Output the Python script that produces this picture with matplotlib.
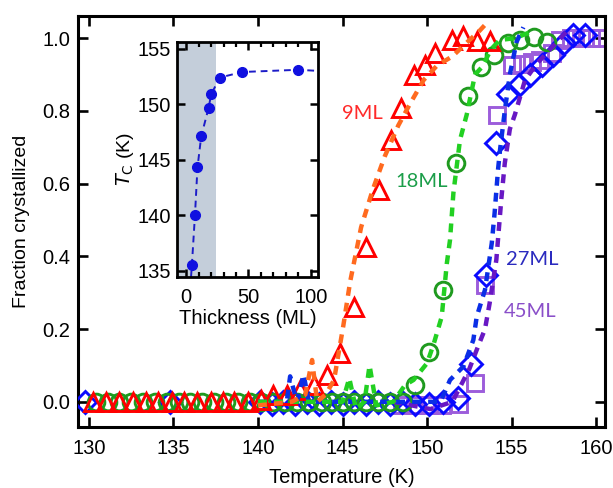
import matplotlib
matplotlib.use("Agg")
import matplotlib.pyplot as plt
from matplotlib.ticker import MultipleLocator

plt.rcParams['font.family'] = ['Liberation Sans', 'DejaVu Sans']

# ---------------- main data ----------------
# 9 ML (red triangles)
t9 = [130.25, 131.0, 131.8, 132.6, 133.35, 134.1, 134.9, 135.6, 136.4, 137.2, 137.9,
      138.6, 139.4, 140.2, 140.9, 141.7, 142.5, 143.3, 144.1, 144.85, 145.7, 146.4,
      147.15, 147.85, 148.45, 149.2, 149.9, 150.5, 151.45, 152.15, 152.95, 153.75]
f9 = [0, 0, 0, 0, 0, 0, 0, 0, 0, 0, 0,
      0, 0, 0.005, 0.02, 0.02, 0.033, 0.046, 0.075, 0.133, 0.262, 0.427,
      0.583, 0.72, 0.807, 0.899, 0.927, 0.959, 0.995, 1.006, 0.991, 0.991]

# 18 ML (green circles)
t18 = [130.4, 131.1, 131.8, 132.5, 133.2, 133.9, 134.6, 135.3, 136.0, 136.7, 137.4,
       138.1, 138.8, 139.5, 140.2, 140.9, 141.6, 142.3, 143.0, 143.8, 144.4, 145.0,
       145.7, 146.4, 147.1, 147.8, 148.6, 149.3, 150.1, 150.95, 151.7, 152.45,
       153.2, 153.95, 154.8, 155.5, 156.3, 157.1]
f18 = [0, 0, 0, 0, 0, 0, 0, 0, 0, 0, 0,
       0, 0, 0, 0, 0, 0, 0, 0, 0, 0, 0,
       0, 0, 0, 0, 0, 0.046, 0.138, 0.307, 0.656, 0.841,
       0.922, 0.953, 0.986, 0.995, 1.004, 0.99]

# 27 ML (blue diamonds)
t27 = [129.75, 134.8, 140.1, 140.8, 141.5, 142.2, 142.9, 143.6, 144.3, 145.0, 145.7,
       146.4, 147.1, 147.8, 148.5, 149.3, 150.1, 150.95, 151.85, 152.6, 153.5, 154.1,
       154.8, 155.45, 156.1, 156.8, 157.45, 158.1, 158.65, 159.35]
f27 = [0, 0, 0, -0.005, 0, -0.005, 0, -0.005, 0, -0.005, 0,
       -0.005, 0, -0.005, 0, -0.005, -0.005, 0, 0.01, 0.105, 0.349, 0.713,
       0.846, 0.872, 0.899, 0.927, 0.954, 0.986, 1.01, 1.01]

# 45 ML (purple squares)
t45 = [148.5, 149.3, 150.1, 150.9, 151.9, 152.84, 153.43, 154.12, 155.01, 155.6, 156.2,
       156.69, 157.38, 157.87, 158.54, 159.13, 159.72, 160.3]
f45 = [-0.01, -0.01, -0.01, -0.01, -0.005, 0.051, 0.32, 0.79, 0.926, 0.93, 0.935,
       0.94, 0.96, 0.995, 1.0, 1.0, 1.0, 1.0]

# dashed curves
c9_t = [140.0, 142.0, 142.8, 143.2, 143.5, 144.0, 144.5, 145.05, 145.45, 146.1, 146.8,
        147.5, 148.3, 149.0, 149.8, 150.6, 151.5, 152.4, 153.1, 153.4]
c9_f = [-0.01, 0.0, 0.02, 0.115, 0.0, 0.02, 0.06, 0.21, 0.33, 0.48, 0.585,
        0.675, 0.76, 0.82, 0.885, 0.925, 0.95, 0.99, 1.02, 1.035]

c18_t = [140.0, 145.0, 145.4, 145.8, 146.3, 146.6, 147.0, 148.0, 148.7, 149.2, 150.0,
         150.4, 150.87, 151.17, 151.36, 151.56, 151.95, 152.35, 152.84, 153.24, 153.8,
         154.3, 155.2, 156.3]
c18_f = [0.0, 0.0, 0.065, -0.02, 0.0, 0.10, -0.01, 0.0, 0.046, 0.06, 0.106,
         0.16, 0.234, 0.38, 0.445, 0.574, 0.72, 0.79, 0.9, 0.92, 0.97,
         0.995, 1.0, 1.02]

c27_t = [140.0, 141.7, 141.9, 142.3, 142.7, 143.0, 150.8, 151.36, 152.15, 152.74, 152.94,
         153.43, 153.83, 154.0, 154.2, 154.32, 154.6, 154.9, 155.3, 155.7]
c27_f = [0.0, 0.0, 0.07, 0.0, 0.075, 0.0, 0.0, 0.06, 0.097, 0.17, 0.234,
         0.308, 0.436, 0.52, 0.638, 0.693, 0.8, 0.9, 0.99, 1.03]

c45_t = [148.0, 150.2, 151.5, 152.5, 153.0, 153.43, 153.7, 154.1, 154.4, 154.6, 154.9,
         155.2, 155.8, 156.5, 157.3, 158.3]
c45_f = [0.0, -0.02, 0.0, 0.09, 0.15, 0.2, 0.27, 0.39, 0.56, 0.656, 0.75,
         0.79, 0.885, 0.93, 0.97, 1.02]

labels = ["9ML", "18ML", "27ML", "45ML"]
label_pos_t = [146.2, 149.7, 156.2, 156.1]
label_pos_f = [0.794, 0.605, 0.39, 0.247]

x_ticks = [130, 135, 140, 145, 150, 155, 160]
y_ticks = [0.0, 0.2, 0.4, 0.6, 0.8, 1.0]

# ---------------- inset data ----------------
thick = [4.5, 7, 9, 12, 18, 20, 27, 45, 90]
tc = [135.5, 140.05, 144.3, 147.1, 149.7, 150.9, 152.4, 152.9, 153.1]
fit_thick = [3.8, 4.5, 7, 9, 12, 18, 20, 27, 45, 90, 106]
fit_tc = [134.4, 135.5, 140.05, 144.3, 147.1, 149.7, 150.9, 152.4, 152.9, 153.1, 153.0]
shade_max = 24
inset_x_ticks = [0, 50, 100]
inset_y_ticks = [135, 140, 145, 150, 155]

# ---------------- figure ----------------
fig = plt.figure(figsize=(6.13, 4.88), dpi=100)
ax = fig.add_axes([78/613, 1-427/488, 527/613, 411/488])

c_red, c_orange = '#ff0000', '#ff6a1f'
c_green, c_lgreen = '#1f9a1f', '#22d022'
c_blue, c_dblue = '#0a0aff', '#0a2ee6'
c_purple, c_dpurple = '#9c5ddb', '#6818c4'

mew = 2.1
ax.plot(t45, f45, ls='none', marker='s', ms=12, mfc='none', mec=c_purple, mew=mew, zorder=2)
ax.plot(t27, f27, ls='none', marker='D', ms=11, mfc='none', mec=c_blue, mew=mew, zorder=3)
ax.plot(t18, f18, ls='none', marker='o', ms=12, mfc='none', mec=c_green, mew=mew, zorder=4)
ax.plot(t9, f9, ls='none', marker='^', ms=13.5, mfc='none', mec=c_red, mew=mew, zorder=5)

dash = (2.0, 1.6)
for ct, cf, col in [(c45_t, c45_f, c_dpurple), (c27_t, c27_f, c_dblue),
                    (c18_t, c18_f, c_lgreen), (c9_t, c9_f, c_orange)]:
    ax.plot(ct, cf, color=col, lw=3.2, dashes=dash, zorder=6)

label_colors = ['#ff2a2a', '#1c9e4a', '#2b2bbf', '#8a4fc9']
for lab, tt, ff, col in zip(labels, label_pos_t, label_pos_f, label_colors):
    ax.text(tt, ff, lab, color=col, fontsize=14.5, family=['Lato', 'DejaVu Sans'],
            ha='center', va='center', zorder=7)

ax.set_xlim(129.35, 160.53)
ax.set_ylim(-0.0693, 1.061)
ax.set_xticks(x_ticks)
ax.set_yticks(y_ticks)
ax.set_yticklabels([f"{v:.1f}" for v in y_ticks])
ax.tick_params(which='major', direction='in', length=7, width=1.9, top=True, right=True,
               labelsize=14.5, colors='black')
ax.tick_params(axis='x', pad=9)
ax.tick_params(axis='y', pad=5.5)
for sp in ax.spines.values():
    sp.set_linewidth(2.2)
ax.set_xlabel("Temperature (K)", fontsize=14.5, labelpad=7)
ax.set_ylabel("Fraction crystallized", fontsize=14, labelpad=9)

# ---------------- inset ----------------
ins = fig.add_axes([176.7/613, 1-277/488, 141.6/613, 235.3/488])
ins.set_xlim(-7.7, 106.1)
ins.set_ylim(134.43, 155.63)
ins.axvspan(-7.7, shade_max, color='#c4ceda', lw=0, zorder=0)
ins.plot(fit_thick, fit_tc, color='#1c1cc8', lw=1.4, dashes=(3.5, 2.5), zorder=2)
ins.plot(thick, tc, ls='none', marker='o', ms=7, color='#1010e0', zorder=3)
ins.set_xticks(inset_x_ticks)
ins.set_yticks(inset_y_ticks)
ins.xaxis.set_minor_locator(MultipleLocator(10))
ins.tick_params(which='major', direction='in', length=6, width=1.8, top=True, right=True,
                labelsize=14.5)
ins.tick_params(which='minor', direction='in', length=3.5, width=1.6, top=True, right=True)
ins.tick_params(axis='x', pad=8)
ins.tick_params(axis='y', pad=4)
for sp in ins.spines.values():
    sp.set_linewidth(2.0)
ins.set_xlabel("Thickness (ML)", fontsize=14.5, labelpad=1)
ins.set_ylabel(r"$T_\mathrm{C}$ (K)", fontsize=14, labelpad=1)

fig.savefig("out.png", dpi=100)
